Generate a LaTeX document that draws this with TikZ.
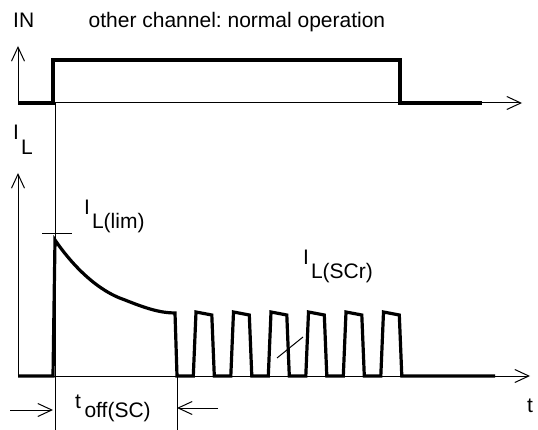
\documentclass[tikz,border=0pt]{standalone}
\usepackage{fontspec}
\setmainfont{Liberation Sans}
\usetikzlibrary{arrows.meta}
\frenchspacing
\begin{document}
\begin{tikzpicture}[x=1pt,y=-1pt,
  thinln/.style={line width=1pt},
  axis/.style={line width=1pt,-{Straight Barb[length=14pt,width=13pt,line width=1pt]}},
  sig/.style={line width=3.2pt,line join=miter,line cap=butt},
  lbl/.style={anchor=base west,inner sep=0pt,font=\fontsize{21}{25}\selectfont\frenchspacing}]
\useasboundingbox (0,0) rectangle (538,430);
% labels
\node[lbl] (in) at (13,28) {IN};
\node[lbl] (oc) at (88.5,28) {other channel: normal operation};
\node[lbl] (il) at (13,140) {I\kern2pt\raisebox{-15pt}{L}};
\node[lbl] (ilim) at (84,215) {I\kern2pt\raisebox{-14pt}{L(lim)}};
\node[lbl] (iscr) at (303,265) {I\kern2pt\raisebox{-14pt}{L(SCr)}};
\node[lbl] (toff) at (75,408) {t\kern3.5pt\raisebox{-9.5pt}{off(SC)}};
\node[lbl] (t) at (527,412) {t};
% top diagram axes
\coordinate (o1) at (18,103);
\coordinate (y1) at (18,46);
\coordinate (x1) at (522,103);
\draw[axis] (o1) -- (y1);
\draw[axis] (o1) -- (x1);
\draw[sig] (18,103) -- (53,103) -- (53,60) -- (400,60) -- (400,103) -- (482,103);
% bottom diagram axes
\coordinate (o2) at (18,376);
\coordinate (y2) at (18,173);
\coordinate (x2) at (530,376);
\draw[axis] (o2) -- (y2);
\draw[axis] (o2) -- (x2);
% vertical markers
\draw[thinln] (55,103) -- (55,430);
\draw[thinln] (177,376) -- (177,430);
% peak tick
\draw[thinln] (42,234) -- (72,234);
% leader
\draw[thinln] (277,358) -- (303,337);
% t_off arrows
\coordinate (a1) at (10,410);
\coordinate (a1t) at (53,410);
\coordinate (a2) at (218,408);
\coordinate (a2t) at (177,408);
\draw[axis] (a1) -- (a1t);
\draw[axis] (a2) -- (a2t);
% load current signal
\draw[sig] (18,376) -- (53,376) -- (55,240)
  .. controls (70,262) and (95,290) .. (125,300)
  .. controls (145,308) and (160,313) .. (175,313)
  -- (177,376)
  \foreach \r in {193.3,230.8,268.3,305.8,343.3,380.8} {
    -- (\r,376) -- (\r+2.7,312) -- (\r+18.5,315) -- (\r+21,376)
  }
  -- (495,376);
\end{tikzpicture}
\end{document}
